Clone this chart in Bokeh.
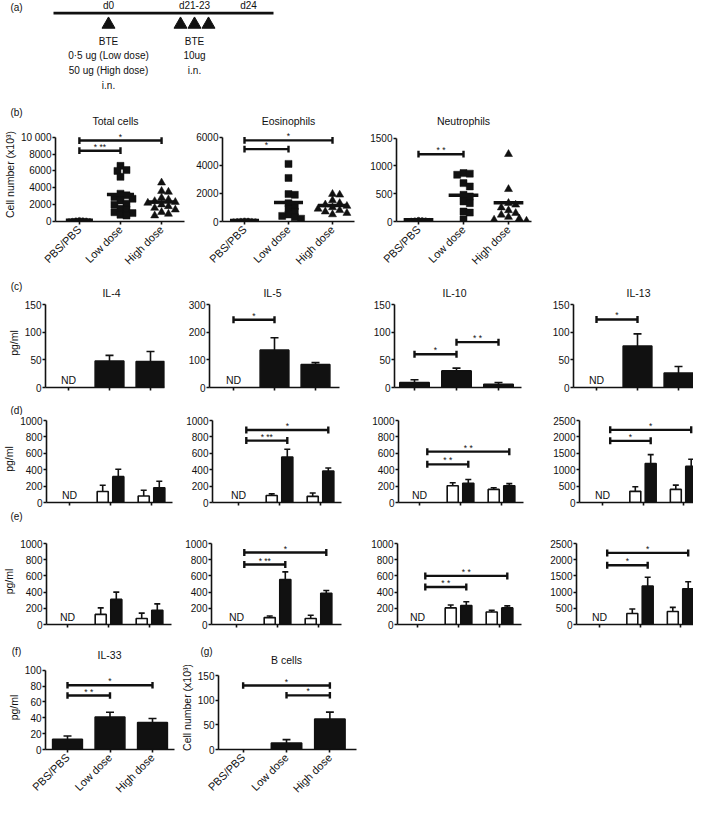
import math
from bokeh.plotting import figure
from bokeh.models import Range1d, FixedTicker
from bokeh.layouts import column, row
from bokeh.embed import file_html
from bokeh.resources import INLINE
from bokeh.core.properties import value

FONT = "Liberation Sans"
BLACK = "#111111"

# ---------------- data ----------------
groups = ["PBS/PBS", "Low dose", "High dose"]

timeline_ticks = ["d0", "d21-23", "d24"]
protocol_prime = ["BTE", "0·5 ug (Low dose)", "50 ug (High dose)", "i.n."]
protocol_challenge = ["BTE", "10ug", "i.n."]

panel_tags = ["(a)", "(b)", "(c)", "(d)", "(e)", "(f)", "(g)"]
b_titles = ["Total cells", "Eosinophils", "Neutrophils"]
c_titles = ["IL-4", "IL-5", "IL-10", "IL-13"]
fg_titles = ["IL-33", "B cells"]

# (b) individual mice
total_pbs = [120, 180, 250, 200, 150, 100, 220]
total_low = [6600, 6100, 6000, 5300, 3300, 3100, 2900, 2700, 2500, 2100, 2000, 1500, 1400, 1100, 1000, 800, 700]
total_high = [4600, 3600, 3500, 2800, 2600, 2400, 2300, 2200, 2000, 1800, 1600, 1400, 1100, 900, 700]
total_mean = [160, 3200, 2300]
eos_pbs = [60, 90, 110, 80, 50, 70, 100]
eos_low = [4100, 3100, 1950, 1900, 1300, 1100, 900, 700, 500, 400, 300, 200]
eos_high = [1950, 1900, 1500, 1300, 1200, 1100, 1000, 900, 800, 700, 600, 500]
eos_mean = [70, 1350, 1140]
neu_pbs = [20, 30, 40, 25, 15, 35, 30]
neu_low = [870, 860, 840, 690, 630, 480, 450, 360, 330, 180, 160, 40]
neu_high = [1210, 580, 330, 300, 250, 200, 150, 120, 80, 50, 30, 10]
neu_mean = [30, 470, 335]

total_stats = [(0, 1, 8400, "* **"), (0, 2, 9600, "*")]
eos_stats = [(0, 1, 5150, "*"), (0, 2, 5770, "*")]
neu_stats = [(0, 1, 1210, "* *")]

# (c) single bars (None = ND)
c_il4_mean = [None, 48, 47]
c_il4_sem = [None, 10, 18]
c_il5_mean = [None, 135, 83]
c_il5_sem = [None, 45, 7]
c_il10_mean = [9, 30, 6]
c_il10_sem = [5, 5, 3]
c_il13_mean = [None, 75, 26]
c_il13_sem = [None, 22, 12]
c_il5_stats = [(0, 1, 245, "*")]
c_il10_stats = [(0, 1, 60, "*"), (1, 2, 82, "* *")]
c_il13_stats = [(0, 1, 123, "*")]

# (d) paired bars: open / filled
d_il4_open = [None, 135, 80]
d_il4_open_sem = [None, 75, 70]
d_il4_fill = [None, 315, 180]
d_il4_fill_sem = [None, 90, 80]
d_il5_open = [None, 85, 75]
d_il5_open_sem = [None, 20, 40]
d_il5_fill = [None, 555, 385]
d_il5_fill_sem = [None, 95, 35]
d_il10_open = [None, 205, 160]
d_il10_open_sem = [None, 35, 20]
d_il10_fill = [None, 235, 205]
d_il10_fill_sem = [None, 45, 25]
d_il13_open = [None, 340, 400]
d_il13_open_sem = [None, 140, 130]
d_il13_fill = [None, 1190, 1100]
d_il13_fill_sem = [None, 270, 220]
d_il5_stats = [(0, 1, 755, "* **"), (0, 2, 885, "*")]
d_il10_stats = [(0, 1, 465, "* *"), (0, 2, 620, "* *")]
d_il13_stats = [(0, 1, 1880, "*"), (0, 2, 2215, "*")]

# (e) paired bars: open / filled
e_il4_open = [None, 125, 75]
e_il4_open_sem = [None, 80, 65]
e_il4_fill = [None, 310, 175]
e_il4_fill_sem = [None, 90, 80]
e_il5_open = [None, 85, 75]
e_il5_open_sem = [None, 20, 40]
e_il5_fill = [None, 555, 385]
e_il5_fill_sem = [None, 95, 35]
e_il10_open = [None, 205, 155]
e_il10_open_sem = [None, 35, 20]
e_il10_fill = [None, 235, 205]
e_il10_fill_sem = [None, 45, 25]
e_il13_open = [None, 340, 400]
e_il13_open_sem = [None, 140, 130]
e_il13_fill = [None, 1190, 1100]
e_il13_fill_sem = [None, 270, 220]
e_il5_stats = [(0, 1, 740, "* **"), (0, 2, 888, "*")]
e_il10_stats = [(0, 1, 463, "* *"), (0, 2, 600, "* *")]
e_il13_stats = [(0, 1, 1830, "*"), (0, 2, 2210, "*")]

# (f) IL-33, (g) B cells
il33_mean = [13, 41, 34]
il33_sem = [4, 6, 5]
il33_stats = [(0, 1, 68, "* *"), (0, 2, 81, "*")]
bcell_mean = [None, 13, 62]
bcell_sem = [None, 7, 14]
bcell_stats = [(0, 2, 130, "*"), (1, 2, 110, "*")]

# ---------------- helpers ----------------
X_LEFT, X_RIGHT = 4, 697   # reference-pixel span of the page content


def style(p):
    p.xgrid.visible = False
    p.ygrid.visible = False
    p.outline_line_color = None
    p.background_fill_color = "white"
    p.border_fill_color = "white"
    for ax in list(p.xaxis) + list(p.yaxis):
        ax.axis_line_width = 1.6
        ax.axis_line_color = BLACK
        ax.major_tick_line_width = 1.6
        ax.major_tick_line_color = BLACK
        ax.major_tick_out = 3
        ax.major_tick_in = 0
        ax.minor_tick_out = 0
        ax.minor_tick_in = 0
        ax.major_label_text_font = FONT
        ax.major_label_text_font_size = "10px"
        ax.major_label_text_color = BLACK
        ax.major_label_standoff = 1
        ax.axis_label_text_font = FONT
        ax.axis_label_text_font_size = "10.5px"
        ax.axis_label_text_font_style = "normal"
        ax.axis_label_text_color = BLACK
        ax.axis_label_standoff = 2


def strip(top, bottom, items):
    """A text-only band (titles and panel tags) laid out in reference pixels."""
    s = figure(width=X_RIGHT - X_LEFT, height=bottom - top,
               x_range=Range1d(X_LEFT, X_RIGHT), y_range=Range1d(bottom, top),
               min_border_left=0, min_border_right=0, min_border_top=0, min_border_bottom=0,
               output_backend="svg", toolbar_location=None)
    s.axis.visible = False
    s.xgrid.visible = False
    s.ygrid.visible = False
    s.outline_line_color = None
    for x, y, t, size in items:
        s.text(x=[x], y=[y], text=[t], text_align="center", text_baseline="middle",
               text_font=value(FONT), text_font_size=size, text_color=BLACK)
    return s


def panel(box, rows, ax, cat0, sp, tick_top, zero, ymax, yticks, ylabel=None, xlabels=False):
    box_l, box_r = box
    frame_top, row_b = rows
    ax_l, ax_r = ax
    fh = zero - frame_top
    y_end = ymax * fh / (zero - tick_top)
    p = figure(width=box_r - box_l, height=row_b - frame_top,
               x_range=Range1d((ax_l - cat0) / sp, (ax_r - cat0) / sp),
               y_range=Range1d(0, y_end),
               min_border_left=ax_l - box_l, min_border_right=box_r - ax_r,
               min_border_top=0, min_border_bottom=row_b - zero,
               output_backend="svg", toolbar_location=None)
    style(p)
    p.xaxis.ticker = FixedTicker(ticks=[0, 1, 2], minor_ticks=[])
    p.yaxis.ticker = FixedTicker(ticks=yticks, minor_ticks=[])
    p.yaxis.bounds = (0, ymax)
    if ymax == 10000:
        p.yaxis.major_label_overrides = {10000: "10 000"}
    if xlabels:
        p.xaxis.major_label_overrides = {i: g for i, g in enumerate(groups)}
        p.xaxis.major_label_orientation = math.pi / 4
        p.xaxis.major_label_text_font_size = "11px"
        p.xaxis.major_label_standoff = 3
    else:
        p.xaxis.major_label_overrides = {0: "", 1: "", 2: ""}
    if ylabel:
        p.yaxis.axis_label = ylabel
    info = dict(sp=sp, ppu=fh / y_end)
    return p, info


def brackets(p, info, stats, shift=0.0, star_size="8.5px"):
    cap = 3.5 / info["ppu"]
    x0, x1, y0, y1 = [], [], [], []
    tx, ty, tt = [], [], []
    for a, b, y, lab in stats:
        xa, xb = a + shift, b + shift
        x0 += [xa, xa, xb]
        x1 += [xb, xa, xb]
        y0 += [y, y - cap, y - cap]
        y1 += [y, y + cap, y + cap]
        tx.append((xa + xb) / 2)
        ty.append(y)
        tt.append(lab)
    p.segment(x0=x0, x1=x1, y0=y0, y1=y1, line_width=2.4, line_color=BLACK)
    p.text(x=tx, y=ty, text=tt, text_align="center", text_baseline="bottom",
           text_font=value(FONT), text_font_size=star_size, text_color=BLACK, y_offset=1)


def bars(p, info, means, sems, offset=0.0, width=0.7, fill=BLACK, cap_px=8):
    xs = [i + offset for i, m in enumerate(means) if m is not None]
    tops = [m for m in means if m is not None]
    es = [s for m, s in zip(means, sems) if m is not None]
    capw = cap_px / info["sp"] / 2
    ex0 = xs + [x - capw for x in xs]
    ex1 = xs + [x + capw for x in xs]
    ey0 = tops + [t + e for t, e in zip(tops, es)]
    ey1 = [t + e for t, e in zip(tops, es)] * 2
    p.segment(x0=ex0, x1=ex1, y0=ey0, y1=ey1, line_width=1.6, line_color=BLACK)
    p.vbar(x=xs, top=tops, bottom=0, width=width, fill_color=fill, line_color=BLACK, line_width=1.6)


def nd(p, means):
    xs = [i for i, m in enumerate(means) if m is None]
    p.text(x=xs, y=[0] * len(xs), text=["ND"] * len(xs), text_align="center",
           text_baseline="bottom", text_font=value(FONT), text_font_size="10.5px",
           text_color=BLACK, y_offset=-2)


def swarm(vals, d, ppu, sp):
    placed = []
    offs = [0.0] * len(vals)
    order = sorted(range(len(vals)), key=lambda i: -vals[i])
    cands = [0.0]
    for j in range(1, 40):
        cands += [j * d * 0.45, -j * d * 0.45]
    for i in order:
        y = vals[i] * ppu
        for c in cands:
            if all((c - px) ** 2 + (y - py) ** 2 >= (0.8 * d) ** 2 for px, py in placed):
                break
        placed.append((c, y))
        offs[i] = c / sp
    return offs


def scatter(p, info, series, means):
    kinds = [("circle", 4), ("square", 7), ("triangle", 8)]
    for i, (vals, (mk, sz)) in enumerate(zip(series, kinds)):
        offs = swarm(vals, sz, info["ppu"], info["sp"])
        p.scatter(x=[i + o for o in offs], y=vals, marker=mk, size=sz,
                  fill_color=BLACK, line_color=BLACK, line_width=0.5)
    p.segment(x0=[i - 0.33 for i in range(3)], x1=[i + 0.33 for i in range(3)],
              y0=means, y1=means, line_width=3.5, line_color=BLACK)


# ---------------- panel (a) ----------------
pa = figure(width=X_RIGHT - X_LEFT, height=94, x_range=Range1d(X_LEFT, X_RIGHT), y_range=Range1d(106, 2),
            min_border_left=0, min_border_right=0, min_border_top=0, min_border_bottom=0,
            output_backend="svg", toolbar_location=None)
pa.axis.visible = False
pa.xgrid.visible = False
pa.ygrid.visible = False
pa.outline_line_color = None
TL_X0, TL_X1, TL_Y = 57, 277, 16
tick_x = [112, 198, 252]
tri_x = [112, 184, 198, 212]
pa.line(x=[TL_X0, TL_X1], y=[TL_Y, TL_Y], line_width=2.8, line_color=BLACK)
pa.text(x=tick_x, y=[7] * 3, text=timeline_ticks, text_align="center", text_baseline="middle",
        text_font=value(FONT), text_font_size="10px", text_color=BLACK)
pa.scatter(x=tri_x, y=[28.5] * 4, marker="triangle", size=13, fill_color=BLACK, line_color=BLACK)
pa.text(x=[112] * 4, y=[47, 63, 79, 96], text=protocol_prime, text_align="center",
        text_baseline="middle", text_font=value(FONT), text_font_size="10px", text_color=BLACK)
pa.text(x=[198] * 3, y=[47, 63, 79], text=protocol_challenge, text_align="center",
        text_baseline="middle", text_font=value(FONT), text_font_size="10px", text_color=BLACK)
pa.text(x=[20], y=[10], text=[panel_tags[0]], text_align="center", text_baseline="middle",
        text_font=value(FONT), text_font_size="10px", text_color=BLACK)

CELL_LABEL = "Cell number (x10³)"
TS = "10.5px"

# ---------------- row (b) ----------------
sb = strip(106, 139, [(20, 124, panel_tags[1], "10px"), (119, 132, b_titles[0], TS),
                      (292, 132, b_titles[1], TS), (467, 132, b_titles[2], TS)])
RB = (139, 286)
pb1, ib1 = panel((4, 196), RB, (53, 188), 78, 43, 149, 236, 10000, [0, 2000, 4000, 6000, 8000, 10000],
                 ylabel=CELL_LABEL, xlabels=True)
scatter(pb1, ib1, [total_pbs, total_low, total_high], total_mean)
brackets(pb1, ib1, total_stats)
pb2, ib2 = panel((196, 368), RB, (226, 358), 248, 44, 149, 236, 6000, [0, 2000, 4000, 6000], xlabels=True)
scatter(pb2, ib2, [eos_pbs, eos_low, eos_high], eos_mean)
brackets(pb2, ib2, eos_stats)
pb3, ib3 = panel((368, 697), RB, (400, 535), 422, 45, 150, 237, 1500, [0, 500, 1000, 1500], xlabels=True)
scatter(pb3, ib3, [neu_pbs, neu_low, neu_high], neu_mean)
brackets(pb3, ib3, neu_stats)

# ---------------- row (c) ----------------
sc = strip(286, 310, [(20, 298, panel_tags[2], "10px"), (115, 304, c_titles[0], TS),
                      (276, 304, c_titles[1], TS), (458, 304, c_titles[2], TS),
                      (642, 304, c_titles[3], TS)])
RC = (310, 416)
pc1, ic1 = panel((4, 180), RC, (49, 168), 72, 41, 316, 399, 150, [0, 50, 100, 150], ylabel="pg/ml")
bars(pc1, ic1, c_il4_mean, c_il4_sem); nd(pc1, c_il4_mean)
pc2, ic2 = panel((180, 365), RC, (213, 343), 237, 41, 316, 399, 300, [0, 100, 200, 300])
bars(pc2, ic2, c_il5_mean, c_il5_sem); nd(pc2, c_il5_mean); brackets(pc2, ic2, c_il5_stats)
pc3, ic3 = panel((365, 548), RC, (398, 525), 418, 42, 316, 399, 150, [0, 50, 100, 150])
bars(pc3, ic3, c_il10_mean, c_il10_sem); brackets(pc3, ic3, c_il10_stats)
pc4, ic4 = panel((548, 697), RC, (577, 697), 600, 41, 316, 399, 150, [0, 50, 100, 150])
bars(pc4, ic4, c_il13_mean, c_il13_sem); nd(pc4, c_il13_mean); brackets(pc4, ic4, c_il13_stats)

# ---------------- rows (d) and (e) ----------------
OFF, BW = 0.19, 0.27


def paired(p, info, op, ops, fl, fls, stats=None):
    bars(p, info, op, ops, offset=-OFF, width=BW, fill="white", cap_px=6)
    bars(p, info, fl, fls, offset=OFF, width=BW, fill=BLACK, cap_px=6)
    nd(p, fl)
    if stats:
        brackets(p, info, stats, shift=OFF)


T1000 = [0, 200, 400, 600, 800, 1000]
T2500 = [0, 500, 1000, 1500, 2000, 2500]

sd = strip(416, 427, [(20, 421, panel_tags[3], "10px")])
RD = (427, 520)
pd1, id1 = panel((4, 183), RD, (50, 176), 73, 41, 432, 514, 1000, T1000, ylabel="pg/ml")
paired(pd1, id1, d_il4_open, d_il4_open_sem, d_il4_fill, d_il4_fill_sem)
pd2, id2 = panel((183, 368), RD, (216, 345), 242, 41, 432, 514, 1000, T1000)
paired(pd2, id2, d_il5_open, d_il5_open_sem, d_il5_fill, d_il5_fill_sem, d_il5_stats)
pd3, id3 = panel((368, 550), RD, (402, 527), 423, 41, 432, 514, 1000, T1000)
paired(pd3, id3, d_il10_open, d_il10_open_sem, d_il10_fill, d_il10_fill_sem, d_il10_stats)
pd4, id4 = panel((550, 697), RD, (583, 697), 606, 40.5, 432, 514, 2500, T2500)
paired(pd4, id4, d_il13_open, d_il13_open_sem, d_il13_fill, d_il13_fill_sem, d_il13_stats)

se = strip(520, 550, [(20, 528, panel_tags[4], "10px")])
RE = (550, 655)
pe1, ie1 = panel((4, 182), RE, (50, 175), 71, 41, 555, 636, 1000, T1000, ylabel="pg/ml")
paired(pe1, ie1, e_il4_open, e_il4_open_sem, e_il4_fill, e_il4_fill_sem)
pe2, ie2 = panel((182, 368), RE, (215, 345), 240, 41, 555, 636, 1000, T1000)
paired(pe2, ie2, e_il5_open, e_il5_open_sem, e_il5_fill, e_il5_fill_sem, e_il5_stats)
pe3, ie3 = panel((368, 548), RE, (401, 525), 421, 41, 555, 636, 1000, T1000)
paired(pe3, ie3, e_il10_open, e_il10_open_sem, e_il10_fill, e_il10_fill_sem, e_il10_stats)
pe4, ie4 = panel((548, 697), RE, (580, 697), 603, 40.5, 555, 636, 2500, T2500)
paired(pe4, ie4, e_il13_open, e_il13_open_sem, e_il13_fill, e_il13_fill_sem, e_il13_stats)

# ---------------- row (f)/(g) ----------------
sf = strip(655, 677, [(20, 663, panel_tags[5], "10px"), (113, 666, fg_titles[0], TS),
                      (210, 663, panel_tags[6], "10px"), (290, 671, fg_titles[1], TS)])
RF = (677, 814)
pf, i_f = panel((4, 181), RF, (49, 178), 71, 42.5, 682, 767, 100, [0, 20, 40, 60, 80, 100],
                ylabel="pg/ml", xlabels=True)
bars(pf, i_f, il33_mean, il33_sem); brackets(pf, i_f, il33_stats)
pg, i_g = panel((181, 697), RF, (220, 360), 245, 44, 688, 768, 150, [0, 50, 100, 150],
                ylabel=CELL_LABEL, xlabels=True)
bars(pg, i_g, bcell_mean, bcell_sem); brackets(pg, i_g, bcell_stats)

layout = column(pa, sb, row(pb1, pb2, pb3), sc, row(pc1, pc2, pc3, pc4), sd, row(pd1, pd2, pd3, pd4),
                se, row(pe1, pe2, pe3, pe4), sf, row(pf, pg))

open("out.html", "w").write(file_html(layout, INLINE))
